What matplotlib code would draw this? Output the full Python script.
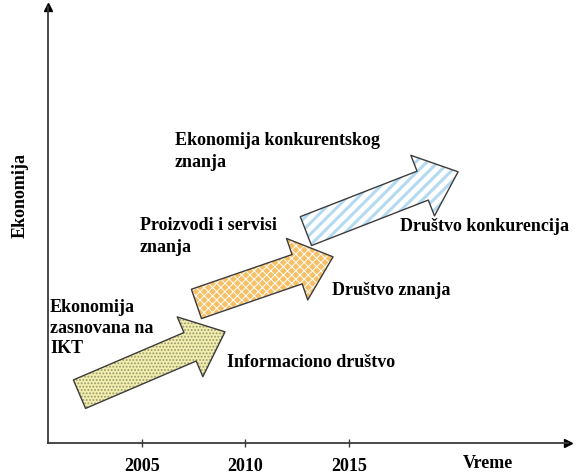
import matplotlib.pyplot as plt
from matplotlib.patches import FancyArrowPatch, ArrowStyle

plt.rcParams['font.family'] = ['Liberation Serif', 'DejaVu Serif']
plt.rcParams['font.weight'] = 'bold'

# tick years on the time axis
years = [2005, 2010, 2015]

# arrows: tail (year, level) -> tip (year, level)
tail_x = [2001.98, 2007.63, 2012.92]
tail_y = [11.2, 31.9, 48.6]
tip_x = [2009.01, 2014.23, 2020.27]
tip_y = [25.5, 42.7, 62.2]

# stage labels
economy_labels = ['Ekonomija\nzasnovana na\nIKT',
                  'Proizvodi i servisi\nznanja',
                  'Ekonomija konkurentskog\nznanja']
society_labels = ['Informaciono društvo', 'Društvo znanja', 'Društvo konkurencija']

fig = plt.figure(figsize=(5.76, 4.77), dpi=100)
ax = fig.add_axes([48 / 576, 33 / 477, 520 / 576, 436 / 477])
ax.set_xlim(2000.46, 2025.58)
ax.set_ylim(0, 100)

axis_color = '#3a3a3a'
for side in ['top', 'right']:
    ax.spines[side].set_visible(False)
for side in ['left', 'bottom']:
    ax.spines[side].set_color(axis_color)
    ax.spines[side].set_linewidth(1.3)
ax.plot(1, 0, '>', color='black', ms=6, transform=ax.transAxes, clip_on=False)
ax.plot(0, 1, '^', color='black', ms=6, transform=ax.transAxes, clip_on=False)

fs = 13
ax.set_xticks(years)
ax.set_xticklabels([str(y) for y in years], fontsize=fs, fontweight='bold')
ax.tick_params(axis='x', direction='inout', length=6, width=1, pad=7, colors=axis_color,
               labelcolor='black')
ax.set_yticks([])

# arrow fills: (facecolor, hatch, hatch colour, hatch linewidth)
styles = [('#f2eeae', '.....', '#9a9870', 0.9),
          ('#f8c066', 'xxxx', 'white', 0.7),
          ('white', '///', '#b4daf2', 2.2)]

pt = 72 / 100.0
arrow_style = ArrowStyle.Simple(head_length=38 * pt, head_width=65 * pt, tail_width=31 * pt)
for i in range(3):
    fc, hatch, hc, hlw = styles[i]
    fill = FancyArrowPatch((tail_x[i], tail_y[i]), (tip_x[i], tip_y[i]),
                           arrowstyle=arrow_style, mutation_scale=1,
                           shrinkA=0, shrinkB=0, facecolor=fc, edgecolor=hc,
                           hatch=hatch, linewidth=0, zorder=2)
    if hasattr(fill, 'set_hatch_linewidth'):
        fill.set_hatch_linewidth(hlw)
    ax.add_patch(fill)
    outline = FancyArrowPatch((tail_x[i], tail_y[i]), (tip_x[i], tip_y[i]),
                              arrowstyle=arrow_style, mutation_scale=1,
                              shrinkA=0, shrinkB=0, facecolor='none',
                              edgecolor='#3c3c3c', linewidth=1.0, zorder=3)
    ax.add_patch(outline)

ax.text(2000.56, 26.6, economy_labels[0], fontsize=fs, ha='left', va='center',
        linespacing=1.3, clip_on=False)
ax.text(2004.9, 47.6, economy_labels[1], fontsize=fs, ha='left', va='center',
        linespacing=1.35)
ax.text(2006.6, 67.1, economy_labels[2], fontsize=fs, ha='left', va='center',
        linespacing=1.35)

ax.text(2009.1, 18.8, society_labels[0], fontsize=fs, ha='left', va='center')
ax.text(2014.18, 35.3, society_labels[1], fontsize=fs, ha='left', va='center')
ax.text(2017.46, 49.8, society_labels[2], fontsize=fs, ha='left', va='center', clip_on=False)

ax.text(2021.7, -4.4, 'Vreme', fontsize=fs, ha='center', va='center', clip_on=False)
fig.text(20 / 576, 1 - 195 / 477, 'Ekonomija', fontsize=fs, rotation=90,
         ha='center', va='center')

fig.savefig('out.png', dpi=100)
